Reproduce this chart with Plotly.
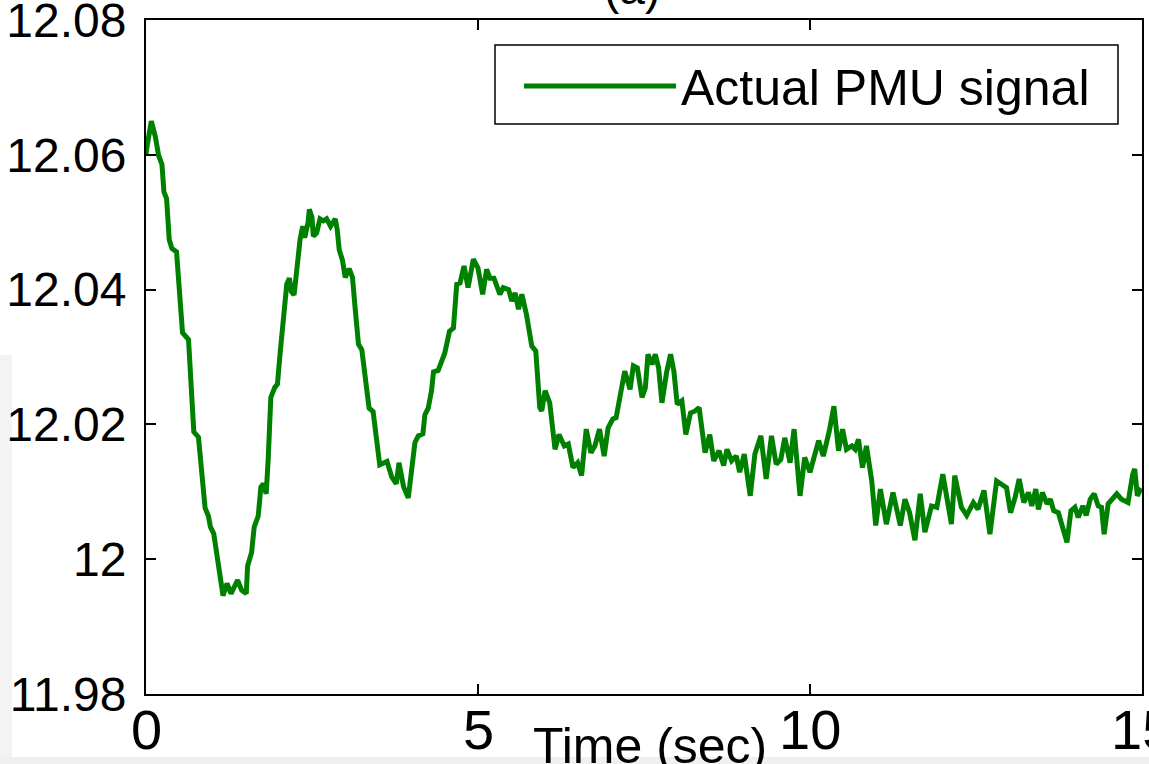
import plotly.graph_objects as go

# Time (sec) and PMU signal values
time_sec = [
    0.00, 0.01, 0.08, 0.14, 0.19, 0.24, 0.27, 0.31, 0.35, 0.39, 0.46, 0.51, 0.55, 0.64, 0.69, 0.72,
    0.79, 0.84, 0.89, 0.94, 0.97, 1.02, 1.07, 1.16, 1.22, 1.28, 1.38, 1.44, 1.51, 1.53, 1.59, 1.63,
    1.69, 1.73, 1.77, 1.81, 1.84, 1.88, 1.94, 1.98, 2.02, 2.06, 2.12, 2.16, 2.19, 2.23, 2.27, 2.32,
    2.36, 2.39, 2.44, 2.46, 2.50, 2.52, 2.57, 2.62, 2.67, 2.72, 2.78, 2.85, 2.88, 2.91, 2.96, 3.00,
    3.06, 3.11, 3.15, 3.20, 3.25, 3.30, 3.36, 3.42, 3.47, 3.52, 3.63, 3.70, 3.77, 3.81, 3.88, 3.95,
    4.00, 4.05, 4.10, 4.17, 4.20, 4.25, 4.30, 4.33, 4.40,
    4.50, 4.57, 4.63, 4.68, 4.73, 4.79, 4.85, 4.93, 5.00, 5.07, 5.13, 5.18, 5.24, 5.33, 5.38, 5.46,
    5.51, 5.56, 5.61, 5.66, 5.73, 5.81, 5.87, 5.93, 5.96, 6.01, 6.08, 6.16, 6.22, 6.30, 6.36, 6.43,
    6.50, 6.56, 6.63, 6.70, 6.76, 6.83, 6.90, 6.96, 7.03, 7.08, 7.14, 7.21, 7.29, 7.34, 7.40, 7.47,
    7.52, 7.56, 7.62, 7.67, 7.72, 7.77, 7.84, 7.90, 7.95, 8.00, 8.07, 8.13, 8.20, 8.27, 8.33, 8.42,
    8.49, 8.55, 8.63, 8.70, 8.75, 8.82, 8.89, 8.94, 9.01, 9.10, 9.17, 9.26, 9.34, 9.42, 9.49, 9.56,
    9.62, 9.70, 9.76,
    9.85, 9.92, 10.00, 10.13, 10.20, 10.29, 10.36, 10.43, 10.49, 10.55, 10.63, 10.68, 10.73, 10.79,
    10.85, 10.93, 10.99, 11.06, 11.15, 11.25, 11.36, 11.43, 11.50, 11.58, 11.66, 11.73, 11.83, 11.91,
    12.00, 12.13, 12.18, 12.28, 12.36, 12.46, 12.53, 12.62, 12.71, 12.81, 12.91, 12.96, 13.02, 13.09,
    13.15, 13.22, 13.29, 13.34, 13.40, 13.44, 13.50, 13.57, 13.62, 13.67, 13.74, 13.81, 13.87, 13.93,
    13.99, 14.04, 14.11, 14.16, 14.22, 14.28, 14.34, 14.39, 14.43, 14.49, 14.54, 14.62, 14.69, 14.79,
    14.86, 14.89, 14.93, 14.97, 15.00,
]

pmu_signal = [
    12.0600, 12.0609, 12.0650, 12.0627, 12.0599, 12.0586, 12.0545, 12.0535, 12.0474, 12.0461, 12.0456,
    12.0372, 12.0336, 12.0326, 12.0250, 12.0189, 12.0181, 12.0132, 12.0076, 12.0064, 12.0048, 12.0038,
    12.0000, 11.9946, 11.9964, 11.9949, 11.9969, 11.9954, 11.9949, 11.9990, 12.0010, 12.0048, 12.0064,
    12.0107, 12.0112, 12.0097, 12.0148, 12.0240, 12.0255, 12.0260, 12.0306, 12.0342, 12.0408, 12.0417,
    12.0397, 12.0392, 12.0433, 12.0474, 12.0494, 12.0477, 12.0499, 12.0519, 12.0507, 12.0479, 12.0484,
    12.0505, 12.0502, 12.0505, 12.0494, 12.0505, 12.0489, 12.0459, 12.0443, 12.0418, 12.0431, 12.0418,
    12.0372, 12.0319, 12.0311, 12.0275, 12.0224, 12.0219, 12.0173, 12.0140, 12.0145, 12.0122, 12.0112,
    12.0143, 12.0107, 12.0091, 12.0132, 12.0173, 12.0183, 12.0186, 12.0214, 12.0224, 12.0250, 12.0278,
    12.0280,
    12.0306, 12.0338, 12.0343, 12.0408, 12.0410, 12.0435, 12.0403, 12.0445, 12.0432, 12.0393, 12.0430,
    12.0417, 12.0417, 12.0393, 12.0403, 12.0400, 12.0383, 12.0395, 12.0371, 12.0393, 12.0363, 12.0316,
    12.0309, 12.0225, 12.0220, 12.0250, 12.0232, 12.0163, 12.0185, 12.0168, 12.0171, 12.0136, 12.0143,
    12.0124, 12.0193, 12.0158, 12.0168, 12.0193, 12.0153, 12.0195, 12.0208, 12.0210, 12.0240, 12.0279,
    12.0252, 12.0287, 12.0284, 12.0240, 12.0254, 12.0304, 12.0289, 12.0304, 12.0284, 12.0232, 12.0277,
    12.0304, 12.0279, 12.0230, 12.0235, 12.0185, 12.0217, 12.0220, 12.0225, 12.0158, 12.0185, 12.0146,
    12.0161, 12.0139, 12.0163, 12.0146, 12.0153, 12.0129, 12.0156, 12.0094, 12.0156, 12.0183, 12.0119,
    12.0183, 12.0141, 12.0148, 12.0180, 12.0143, 12.0193,
    12.0094, 12.0151, 12.0129, 12.0176, 12.0153, 12.0190, 12.0227, 12.0161, 12.0193, 12.0163, 12.0168,
    12.0163, 12.0178, 12.0136, 12.0168, 12.0116, 12.0050, 12.0104, 12.0052, 12.0099, 12.0050, 12.0089,
    12.0069, 12.0028, 12.0097, 12.0040, 12.0079, 12.0077, 12.0126, 12.0052, 12.0124, 12.0077, 12.0065,
    12.0084, 12.0074, 12.0102, 12.0037, 12.0116, 12.0109, 12.0106, 12.0069, 12.0092, 12.0119, 12.0084,
    12.0099, 12.0079, 12.0104, 12.0074, 12.0099, 12.0082, 12.0089, 12.0072, 12.0069, 12.0045, 12.0025,
    12.0072, 12.0077, 12.0062, 12.0079, 12.0065, 12.0089, 12.0097, 12.0079, 12.0077, 12.0037, 12.0082,
    12.0089, 12.0097, 12.0089, 12.0084, 12.0126, 12.0134, 12.0094, 12.0102, 12.0100,
]

x_ticks = [0, 5, 10, 15]
x_tick_labels = ["0", "5", "10", "15"]
y_ticks = [11.98, 12.00, 12.02, 12.04, 12.06, 12.08]
y_tick_labels = ["11.98", "12", "12.02", "12.04", "12.06", "12.08"]
series_name = "Actual PMU signal"
x_title = "Time (sec)"
panel_title = "(a)"

FONT = "Liberation Sans, Arial, sans-serif"

fig = go.Figure()
fig.add_trace(go.Scatter(
    x=time_sec, y=pmu_signal, mode="lines", name=series_name,
    line=dict(color="#008000", width=5),
))

axis_common = dict(
    showgrid=False, zeroline=False, showline=True, linecolor="black", linewidth=2,
    mirror="allticks", ticks="inside", ticklen=10, tickwidth=1.5, tickcolor="black",
    automargin=False,
)

fig.update_xaxes(
    range=[0, 15], tickvals=x_ticks, showticklabels=False,
    **axis_common,
)
fig.update_yaxes(
    range=[11.98, 12.08], tickvals=y_ticks, ticktext=y_tick_labels,
    tickfont=dict(family=FONT, size=48, color="black"), ticklabelstandoff=8,
    ticklabeloverflow="allow",
    **axis_common,
)

annotations = [
    dict(text=lab, xref="x", yref="paper", x=val, y=-0.0534,
         xanchor="center", yanchor="middle", showarrow=False,
         font=dict(family=FONT, size=56, color="black"))
    for val, lab in zip(x_ticks, x_tick_labels)
]
annotations += [
    dict(text=x_title, xref="paper", yref="paper", x=0.506, y=-0.0772,
         xanchor="center", yanchor="middle", showarrow=False,
         font=dict(family=FONT, size=50, color="black")),
    dict(text=panel_title, xref="paper", yref="paper", x=0.488, y=1.006,
         xanchor="center", yanchor="bottom", showarrow=False,
         font=dict(family=FONT, size=46, color="black")),
]

fig.update_layout(
    width=1149, height=764,
    margin=dict(l=146, r=7, t=20, b=70, pad=0),
    paper_bgcolor="white", plot_bgcolor="white",
    showlegend=True,
    legend=dict(
        x=0.3745, y=0.960, xanchor="left", yanchor="top",
        borderwidth=0, bgcolor="rgba(0,0,0,0)",
        font=dict(family=FONT, size=50, color="black"),
        itemwidth=152, tracegroupgap=0,
    ),
    annotations=annotations,
    shapes=[
        # legend frame
        dict(type="rect", xref="paper", yref="paper", x0=0.3504, x1=0.9759, y0=0.8457, y1=0.9629,
             fillcolor="white", line=dict(color="black", width=1.5), layer="below"),
        # light grey page edges of the reference scan
        dict(type="rect", xref="paper", yref="paper", x0=-0.1466, x1=-0.1345, y0=-0.104, y1=0.503,
             fillcolor="#f3f3f3", line=dict(width=0), layer="below"),
        dict(type="rect", xref="paper", yref="paper", x0=-0.1466, x1=1.01, y0=-0.104, y1=-0.0935,
             fillcolor="#f0f0f0", line=dict(width=0), layer="above"),
    ],
    hovermode=False,
)

fig.write_html("out.html", config={"displayModeBar": False})
